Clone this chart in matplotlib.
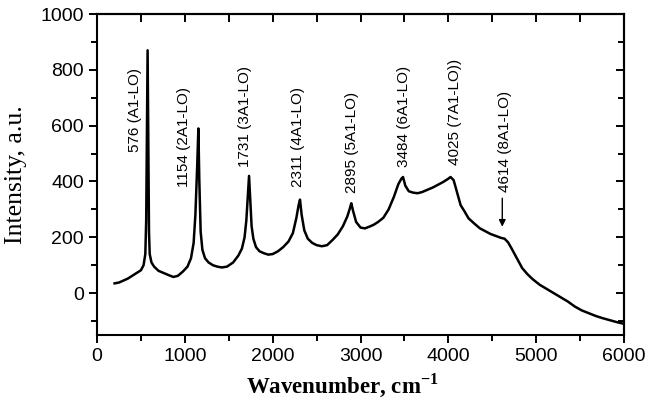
import matplotlib
matplotlib.use("Agg")
import matplotlib.pyplot as plt
from matplotlib.ticker import MultipleLocator

# Raman spectrum, rows of 10 matched points
wavenumber = [200, 250, 300, 350, 400, 450, 500, 530, 550, 560,
              568, 576, 584, 592, 600, 620, 650, 700, 760, 820,
              870, 920, 980, 1030, 1070, 1100, 1120, 1140, 1154, 1165,
              1180, 1200, 1230, 1270, 1320, 1370, 1420, 1480, 1550, 1610,
              1650, 1680, 1700, 1715, 1731, 1745, 1760, 1780, 1810, 1850,
              1900, 1950, 2000, 2060, 2120, 2180, 2230, 2270, 2295, 2311,
              2330, 2360, 2400, 2450, 2500, 2560, 2620, 2680, 2740, 2800,
              2850, 2880, 2895, 2915, 2950, 3000, 3050, 3100, 3150, 3200,
              3260, 3320, 3380, 3430, 3465, 3484, 3510, 3550, 3600, 3650,
              3700, 3760, 3820, 3880, 3940, 3990, 4025, 4060, 4100, 4140,
              4180, 4230, 4300, 4360, 4420, 4480, 4540, 4600, 4640, 4680,
              4720, 4780, 4840, 4900, 4960, 5040, 5120, 5200, 5280, 5360,
              5440, 5520, 5600, 5680, 5760, 5840, 5920, 6000]
intensity = [35, 38, 45, 52, 62, 72, 82, 100, 140, 260,
             560, 870, 520, 220, 140, 110, 95, 80, 72, 64,
             58, 62, 78, 95, 125, 180, 280, 450, 590, 400,
             220, 155, 125, 110, 100, 95, 92, 95, 110, 135,
             160, 200, 260, 340, 420, 330, 240, 195, 165, 150,
             143, 138, 140, 150, 165, 185, 215, 270, 315, 335,
             280, 225, 195, 180, 172, 168, 172, 190, 210, 240,
             275, 305, 322, 295, 255, 235, 232, 238, 245, 255,
             270, 300, 345, 390, 410, 416, 385, 365, 360, 358,
             362, 370, 378, 388, 398, 408, 416, 405, 360, 315,
             295, 268, 248, 232, 222, 212, 205, 198, 195, 182,
             160, 125, 90, 68, 50, 30, 15, 0, -15, -30,
             -48, -62, -72, -82, -90, -97, -104, -110]

peak_pos = [433, 990, 1685, 2290, 2905, 3495, 4076, 4645]
peak_label_y = [505, 380, 452, 380, 358, 452, 459, 362]
peak_labels = ["576 (A1-LO)", "1154 (2A1-LO)", "1731 (3A1-LO)", "2311 (4A1-LO)",
               "2895 (5A1-LO)", "3484 (6A1-LO)", "4025 (7A1-LO))", "4614 (8A1-LO)"]

fig = plt.figure(figsize=(6.48, 4.05), dpi=100)
ax = fig.add_axes([0.1497, 0.1728, 0.9630 - 0.1497, 0.9654 - 0.1728])

ax.plot(wavenumber, intensity, color="black", lw=1.8)

ax.set_xlim(0, 6000)
ax.set_ylim(-150, 1000)

for x, y, t in zip(peak_pos, peak_label_y, peak_labels):
    ax.text(x, y, t, rotation=90, ha="center", va="bottom",
            fontsize=11, family="Liberation Sans")

ax.annotate("", xy=(4614, 228), xytext=(4614, 350),
            arrowprops=dict(arrowstyle="-|>", color="black", lw=1.0,
                            mutation_scale=10))

ax.xaxis.set_major_locator(MultipleLocator(1000))
ax.xaxis.set_minor_locator(MultipleLocator(500))
ax.yaxis.set_major_locator(MultipleLocator(200))
ax.yaxis.set_minor_locator(MultipleLocator(100))

for s in ax.spines.values():
    s.set_linewidth(1.5)

ax.tick_params(which="both", direction="out", width=1.4, labelsize=14,
               top=False, right=False)
ax.tick_params(which="major", length=6)
ax.tick_params(which="minor", length=4)
for lab in ax.get_xticklabels() + ax.get_yticklabels():
    lab.set_family("Liberation Sans")

# mirrored inward ticks on top and right
axt = ax.secondary_xaxis("top")
axt.xaxis.set_major_locator(MultipleLocator(1000))
axt.xaxis.set_minor_locator(MultipleLocator(500))
axt.tick_params(which="both", direction="in", width=1.4, labeltop=False)
axt.tick_params(which="major", length=6)
axt.tick_params(which="minor", length=6)
axr = ax.secondary_yaxis("right")
axr.yaxis.set_major_locator(MultipleLocator(200))
axr.yaxis.set_minor_locator(MultipleLocator(100))
axr.tick_params(which="both", direction="in", width=1.4, labelright=False)
axr.tick_params(which="major", length=6)
axr.tick_params(which="minor", length=4)
for sa in (axt, axr):
    for s in sa.spines.values():
        s.set_linewidth(1.5)

ax.set_xlabel("Wavenumber, cm$^{\\mathregular{-1}}$", family="Liberation Serif",
              fontsize=16.5, fontweight="bold")
ax.xaxis.set_label_coords(0.465, -0.112)
ax.set_ylabel("Intensity, a.u.", family="Liberation Serif", fontsize=18.5)
ax.yaxis.set_label_coords(-0.133, 0.5)

fig.savefig("out.png", dpi=100)
